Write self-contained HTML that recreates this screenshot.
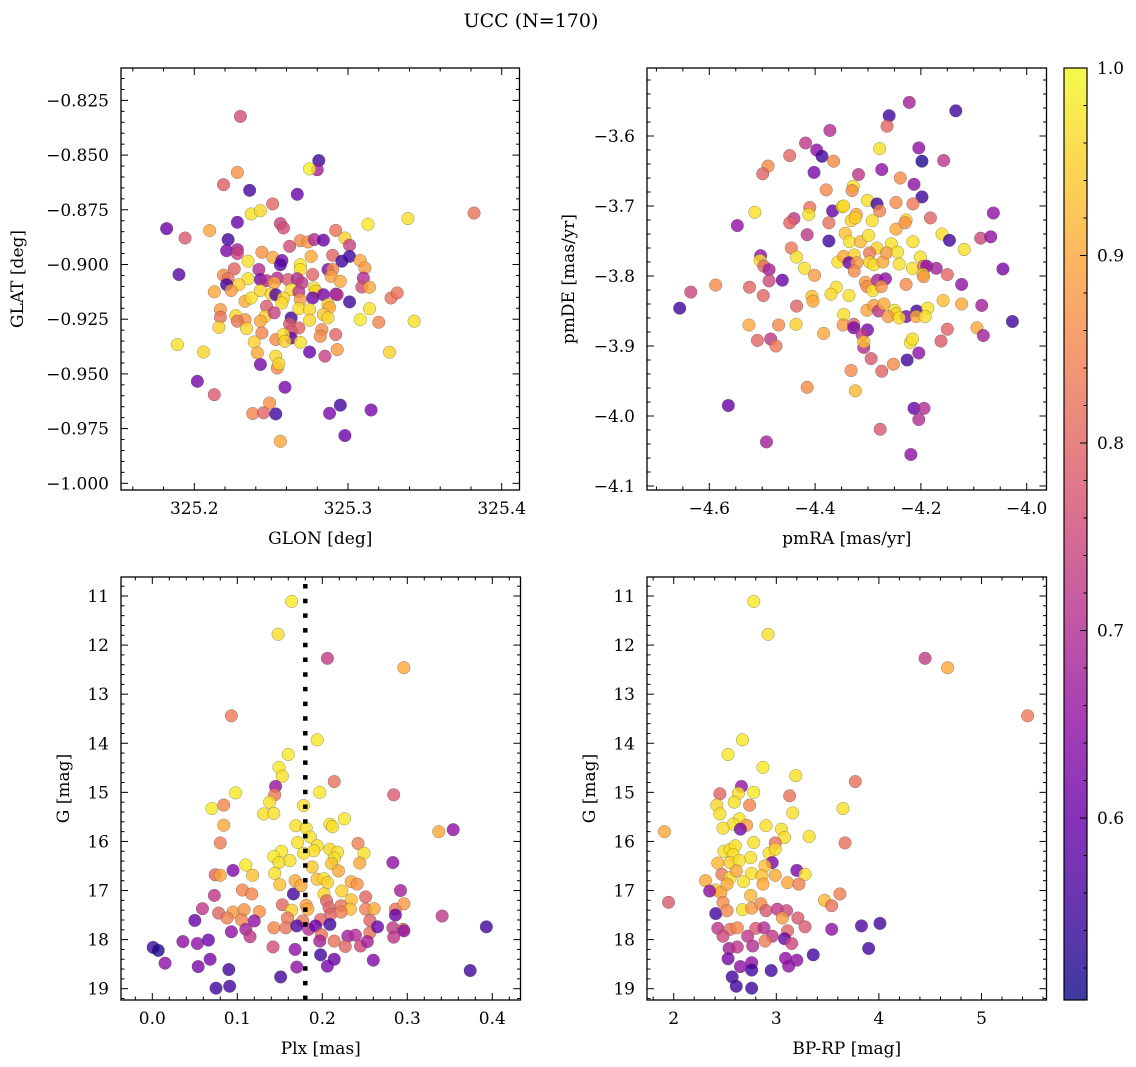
<!DOCTYPE html>
<html><head><meta charset="utf-8"><style>
html,body{margin:0;padding:0;background:#fff}
svg{display:block;font-family:"DejaVu Serif","Liberation Serif",serif}
</style></head><body>
<svg id="fig" width="1136" height="1067" viewBox="0 0 1136 1067" xmlns="http://www.w3.org/2000/svg">
<text x="531" y="27" font-size="19" text-anchor="middle">UCC (N=170)</text>
</svg>
<script>
// ---- Panel 1 data: GLON / GLAT ----
const glon=[325.230,325.281,325.280,325.275,325.228,325.219,325.236,325.267,325.251,325.237,325.243,325.228,325.382,325.339,325.313,325.182,325.194,325.210,325.256,325.258,325.222,325.292,325.298,325.269,325.274,325.278,325.284,325.221,325.228,325.228,325.262,325.301,325.244,325.251,325.257,325.256,325.276,325.269,325.269,325.290,325.296,325.301,325.308,325.311,325.235,325.190,325.226,325.242,325.287,325.290,325.289,325.219,325.222,325.235,325.243,325.247,325.254,325.252,325.261,325.267,325.270,325.277,325.295,325.310,325.309,325.314,325.229,325.221,325.213,325.224,325.243,325.250,325.253,325.263,325.258,325.268,325.278,325.279,325.284,325.292,325.293,325.328,325.332,325.301,325.233,325.237,325.247,325.257,325.269,325.277,325.287,325.288,325.314,325.217,325.217,325.227,325.233,325.228,325.246,325.252,325.263,325.268,325.275,325.275,325.284,325.287,325.308,325.343,325.320,325.216,325.234,325.243,325.262,325.268,325.263,325.283,325.282,325.292,325.244,325.253,325.263,325.258,325.259,325.269,325.239,325.189,325.206,325.241,325.275,325.285,325.293,325.327,325.253,325.243,325.254,325.255,325.202,325.259,325.213,325.249,325.238,325.245,325.253,325.295,325.288,325.315,325.298,325.256];
const glat=[-0.8323,-0.8525,-0.8567,-0.8563,-0.8579,-0.8635,-0.8661,-0.8679,-0.8723,-0.8769,-0.8754,-0.8807,-0.8765,-0.8790,-0.8816,-0.8836,-0.8879,-0.8845,-0.8813,-0.8833,-0.8886,-0.8844,-0.8879,-0.8891,-0.8897,-0.8886,-0.8889,-0.8937,-0.8932,-0.8950,-0.8917,-0.8912,-0.8944,-0.8967,-0.8982,-0.9001,-0.8963,-0.9001,-0.9023,-0.8958,-0.8985,-0.8963,-0.8982,-0.9016,-0.8985,-0.9046,-0.9020,-0.9023,-0.9023,-0.9023,-0.9054,-0.9049,-0.9065,-0.9065,-0.9069,-0.9074,-0.9062,-0.9084,-0.9069,-0.9065,-0.9084,-0.9046,-0.9077,-0.9062,-0.9103,-0.9104,-0.9092,-0.9092,-0.9125,-0.9119,-0.9119,-0.9135,-0.9138,-0.9115,-0.9153,-0.9125,-0.9107,-0.9122,-0.9138,-0.9135,-0.9138,-0.9153,-0.9130,-0.9171,-0.9168,-0.9153,-0.9191,-0.9176,-0.9161,-0.9153,-0.9183,-0.9196,-0.9202,-0.9206,-0.9241,-0.9234,-0.9252,-0.9259,-0.9237,-0.9221,-0.9244,-0.9202,-0.9206,-0.9255,-0.9229,-0.9244,-0.9252,-0.9259,-0.9264,-0.9287,-0.9293,-0.9259,-0.9272,-0.9290,-0.9305,-0.9298,-0.9328,-0.9320,-0.9313,-0.9343,-0.9336,-0.9320,-0.9351,-0.9356,-0.9354,-0.9366,-0.9400,-0.9404,-0.9400,-0.9419,-0.9389,-0.9401,-0.9419,-0.9457,-0.9473,-0.9454,-0.9534,-0.9561,-0.9595,-0.9633,-0.9681,-0.9678,-0.9683,-0.9643,-0.9680,-0.9665,-0.9782,-0.9808];
const probPos=[.76,.55,.68,.99,.87,.79,.55,.60,.80,.97,.96,.60,.82,.97,.98,.60,.78,.90,.74,.76,.55,.82,.95,.86,.88,.70,.60,.62,.68,.74,.76,.74,.87,.90,.62,.57,.90,.98,.97,.80,.55,.55,.90,.88,.97,.58,.80,.70,.62,.86,.89,.86,.82,.97,.62,.70,.70,.90,.78,.70,.72,.80,.90,.70,.76,.90,.95,.55,.90,.88,.96,.95,.57,.97,.96,.72,.97,.95,.62,.68,.70,.82,.82,.55,.90,.97,.78,.96,.88,.60,.96,.90,.97,.88,.82,.96,.87,.82,.95,.74,.55,.97,.96,.96,.94,.96,.98,.97,.85,.95,.96,.90,.78,.80,.78,.86,.86,.80,.85,.86,.60,.97,.95,.97,.95,.97,.96,.90,.60,.74,.88,.95,.96,.62,.86,.96,.62,.62,.78,.87,.85,.80,.55,.55,.62,.62,.60,.90];

// ---- Panel 2 data: pmRA / pmDE ----
const pmra=[-4.222,-4.134,-4.260,-4.264,-4.372,-4.418,-4.397,-4.387,-4.365,-4.278,-4.204,-4.198,-4.157,-4.448,-4.489,-4.499,-4.402,-4.318,-4.274,-4.239,-4.213,-4.198,-4.379,-4.328,-4.330,-4.514,-4.547,-4.410,-4.367,-4.349,-4.346,-4.301,-4.283,-4.278,-4.247,-4.215,-4.440,-4.448,-4.412,-4.374,-4.332,-4.322,-4.324,-4.292,-4.228,-4.247,-4.230,-4.182,-4.415,-4.374,-4.343,-4.335,-4.314,-4.299,-4.283,-4.256,-4.215,-4.160,-4.146,-4.118,-4.087,-4.068,-4.063,-4.445,-4.435,-4.503,-4.504,-4.497,-4.487,-4.420,-4.401,-4.357,-4.346,-4.326,-4.336,-4.321,-4.297,-4.297,-4.289,-4.272,-4.265,-4.244,-4.241,-4.201,-4.216,-4.195,-4.189,-4.171,-4.150,-4.045,-4.326,-4.196,-4.195,-4.487,-4.462,-4.635,-4.588,-4.524,-4.498,-4.360,-4.370,-4.336,-4.305,-4.302,-4.291,-4.282,-4.267,-4.275,-4.228,-4.123,-4.656,-4.435,-4.406,-4.404,-4.158,-4.123,-4.085,-4.302,-4.289,-4.280,-4.270,-4.250,-4.247,-4.262,-4.228,-4.208,-4.209,-4.187,-4.192,-4.241,-4.346,-4.027,-4.525,-4.469,-4.436,-4.347,-4.327,-4.327,-4.301,-4.384,-4.509,-4.484,-4.474,-4.311,-4.308,-4.308,-4.220,-4.216,-4.162,-4.150,-4.094,-4.082,-4.294,-4.332,-4.274,-4.252,-4.226,-4.204,-4.415,-4.324,-4.564,-4.213,-4.194,-4.204,-4.277,-4.492,-4.219];
const pmde=[-3.552,-3.564,-3.571,-3.586,-3.592,-3.610,-3.620,-3.629,-3.636,-3.618,-3.617,-3.636,-3.635,-3.628,-3.643,-3.654,-3.652,-3.655,-3.648,-3.660,-3.669,-3.687,-3.677,-3.672,-3.678,-3.709,-3.728,-3.702,-3.707,-3.701,-3.700,-3.692,-3.697,-3.707,-3.695,-3.697,-3.718,-3.724,-3.712,-3.724,-3.721,-3.712,-3.717,-3.721,-3.720,-3.733,-3.724,-3.717,-3.741,-3.750,-3.739,-3.751,-3.751,-3.742,-3.760,-3.754,-3.751,-3.740,-3.749,-3.762,-3.746,-3.744,-3.710,-3.760,-3.773,-3.771,-3.778,-3.786,-3.791,-3.789,-3.799,-3.780,-3.772,-3.770,-3.781,-3.781,-3.767,-3.780,-3.784,-3.780,-3.767,-3.766,-3.783,-3.773,-3.789,-3.786,-3.786,-3.789,-3.798,-3.790,-3.793,-3.798,-3.801,-3.807,-3.806,-3.823,-3.813,-3.816,-3.828,-3.816,-3.826,-3.828,-3.809,-3.815,-3.821,-3.806,-3.804,-3.815,-3.812,-3.812,-3.846,-3.843,-3.829,-3.836,-3.835,-3.840,-3.842,-3.849,-3.842,-3.850,-3.840,-3.849,-3.854,-3.858,-3.858,-3.850,-3.858,-3.846,-3.858,-3.860,-3.855,-3.865,-3.870,-3.870,-3.869,-3.870,-3.869,-3.874,-3.877,-3.882,-3.892,-3.890,-3.900,-3.884,-3.902,-3.894,-3.895,-3.890,-3.893,-3.876,-3.874,-3.885,-3.918,-3.935,-3.936,-3.926,-3.920,-3.910,-3.959,-3.964,-3.985,-3.989,-3.989,-4.005,-4.019,-4.037,-4.055];
const probPm=[.68,.55,.55,.80,.70,.72,.65,.55,.86,.97,.65,.52,.72,.80,.86,.80,.62,.72,.65,.86,.65,.55,.86,.97,.86,.97,.65,.82,.60,.97,.96,.97,.55,.85,.86,.83,.72,.80,.97,.82,.95,.90,.95,.97,.95,.90,.87,.80,.72,.55,.93,.97,.92,.97,.95,.97,.97,.97,.55,.97,.75,.65,.65,.83,.97,.65,.97,.80,.68,.97,.88,.97,.90,.95,.60,.88,.83,.95,.97,.90,.88,.97,.97,.97,.97,.82,.65,.68,.80,.62,.86,.97,.87,.75,.60,.75,.86,.80,.80,.97,.96,.97,.88,.86,.97,.68,.65,.87,.86,.65,.55,.80,.93,.90,.93,.90,.68,.90,.88,.72,.90,.97,.96,.88,.62,.55,.90,.97,.97,.97,.97,.55,.90,.86,.95,.88,.80,.62,.62,.90,.80,.72,.83,.72,.70,.93,.97,.97,.78,.80,.90,.68,.78,.86,.80,.86,.55,.65,.86,.92,.60,.60,.70,.70,.78,.68,.65];

// ---- Panel 3 data: Plx / G ----
const plx=[.164,.148,.206,.296,.093,.194,.160,.149,.153,.214,.145,.144,.098,.197,.284,.070,.084,.138,.131,.143,.178,.226,.084,.169,.181,.209,.212,.337,.354,.080,.186,.171,.194,.242,.190,.178,.152,.143,.149,.162,.209,.218,.214,.211,.219,.249,.244,.283,.110,.118,.074,.080,.095,.144,.150,.188,.194,.202,.206,.168,.234,.241,.223,.202,.106,.117,.073,.166,.175,.292,.251,.234,.205,.059,.078,.095,.108,.126,.153,.164,.181,.183,.208,.222,.233,.251,.261,.286,.296,.341,.050,.088,.105,.120,.159,.177,.198,.210,.222,.209,.256,.286,.143,.157,.170,.184,.192,.199,.230,.239,.256,.265,.283,.295,.296,.393,.093,.110,.115,.036,.053,.066,.214,.227,.245,.253,.284,.001,.007,.142,.168,.197,.015,.054,.068,.198,.214,.206,.260,.090,.170,.374,.151,.075,.091];
const gPlx=[11.11,11.78,12.27,12.46,13.44,13.93,14.23,14.49,14.67,14.78,14.88,15.05,15.01,15.00,15.05,15.33,15.26,15.20,15.44,15.43,15.27,15.54,15.67,15.68,15.73,15.65,15.70,15.80,15.76,16.03,15.91,16.02,16.09,16.04,16.19,16.24,16.20,16.31,16.43,16.39,16.16,16.22,16.34,16.45,16.60,16.24,16.44,16.43,16.48,16.69,16.68,16.69,16.59,16.65,16.88,16.52,16.77,16.76,16.84,16.80,16.82,16.87,17.01,17.07,16.99,17.07,17.10,17.07,16.90,17.00,17.13,17.19,17.21,17.37,17.46,17.44,17.39,17.43,17.29,17.40,17.30,17.38,17.35,17.31,17.38,17.38,17.37,17.38,17.27,17.52,17.61,17.56,17.60,17.62,17.56,17.62,17.59,17.48,17.44,17.69,17.61,17.50,17.76,17.76,17.72,17.79,17.72,17.90,17.93,17.91,17.86,17.74,17.76,17.79,17.82,17.74,17.84,17.79,17.94,18.04,18.08,18.01,18.03,18.14,18.13,18.04,17.95,18.16,18.22,18.15,18.20,18.03,18.48,18.55,18.40,18.31,18.40,18.54,18.42,18.61,18.56,18.63,18.76,18.99,18.95];
const probPlx=[.98,.97,.73,.90,.83,.98,.98,.98,.97,.82,.66,.83,.98,.98,.78,.98,.85,.97,.97,.97,.97,.98,.90,.97,.97,.97,.97,.90,.65,.84,.97,.97,.97,.84,.97,.97,.98,.98,.97,.97,.96,.97,.97,.93,.90,.97,.90,.65,.98,.93,.80,.90,.63,.97,.93,.94,.93,.97,.95,.90,.90,.87,.95,.96,.85,.85,.72,.55,.90,.68,.80,.93,.80,.72,.80,.88,.87,.87,.80,.95,.88,.90,.80,.82,.93,.84,.90,.82,.88,.72,.60,.84,.85,.65,.83,.83,.80,.80,.84,.55,.80,.60,.85,.82,.57,.70,.60,.82,.68,.70,.82,.60,.72,.82,.65,.55,.65,.68,.72,.65,.65,.60,.82,.80,.75,.68,.72,.55,.52,.76,.65,.68,.65,.62,.62,.55,.60,.62,.63,.55,.65,.55,.55,.55,.55];
const plxRef=[0.18];

// ---- Panel 4 data: BP-RP / G ----
const bprp=[2.78,2.92,4.45,4.67,5.45,2.67,2.53,2.87,3.19,3.77,2.66,2.45,2.78,2.63,2.59,2.42,2.45,2.74,3.13,3.16,3.65,2.64,2.58,2.48,2.71,2.65,2.90,3.05,3.08,3.32,1.91,3.67,2.78,2.99,2.49,2.55,2.60,2.58,2.75,2.93,2.99,2.43,2.55,2.64,2.96,2.89,2.47,2.55,2.61,2.76,2.99,3.20,3.28,2.31,2.41,2.46,2.35,2.52,2.68,2.86,2.87,3.11,3.22,2.75,3.47,3.62,3.54,1.95,2.48,2.41,2.52,2.67,2.76,2.85,2.90,3.01,3.10,3.06,3.21,3.28,3.54,3.83,4.01,2.43,2.55,2.62,2.48,2.72,2.80,2.88,2.96,3.11,3.08,3.15,2.54,2.62,2.77,2.89,3.90,3.36,2.53,2.65,2.76,2.76,3.09,3.12,3.20,2.95,2.57,2.61,2.76];
const gCmd=[11.11,11.78,12.27,12.46,13.44,13.93,14.23,14.49,14.66,14.78,14.88,15.03,15.00,15.02,15.20,15.26,15.44,15.26,15.07,15.42,15.33,15.54,15.65,15.73,15.67,15.75,15.68,15.75,15.92,15.90,15.80,16.03,16.02,16.03,16.20,16.16,16.09,16.27,16.33,16.24,16.16,16.44,16.43,16.39,16.43,16.50,16.67,16.74,16.60,16.65,16.69,16.59,16.67,16.80,16.99,17.04,17.01,16.87,16.82,16.70,16.87,16.84,16.87,17.10,17.20,17.07,17.31,17.24,17.24,17.47,17.41,17.39,17.36,17.27,17.41,17.38,17.41,17.56,17.56,17.74,17.79,17.72,17.67,17.77,17.79,17.76,17.93,17.93,17.77,17.76,17.93,17.82,17.98,18.08,18.18,18.15,18.13,18.03,18.18,18.31,18.39,18.55,18.47,18.62,18.38,18.54,18.42,18.63,18.76,18.95,18.99];
const probCmd=[.98,.97,.73,.90,.83,.98,.98,.98,.97,.82,.66,.80,.98,.97,.97,.96,.97,.85,.82,.97,.97,.97,.97,.97,.88,.62,.97,.97,.97,.97,.90,.82,.97,.82,.97,.97,.97,.97,.97,.97,.96,.92,.95,.97,.63,.93,.83,.97,.90,.97,.90,.62,.97,.90,.95,.90,.65,.90,.97,.93,.90,.90,.84,.92,.92,.84,.82,.78,.86,.55,.86,.97,.88,.86,.78,.72,.75,.88,.78,.78,.65,.57,.55,.72,.82,.85,.75,.72,.78,.70,.72,.80,.60,.75,.68,.72,.70,.84,.55,.55,.62,.65,.65,.55,.65,.65,.65,.55,.55,.55,.55];

// ---- Axis tick values / labels ----
const p1XTicks=[325.2,325.3,325.4];
const p1XLabels=["325.2","325.3","325.4"];
const p1YTicks=[-0.825,-0.85,-0.875,-0.9,-0.925,-0.95,-0.975,-1.0];
const p1YLabels=["\u22120.825","\u22120.850","\u22120.875","\u22120.900","\u22120.925","\u22120.950","\u22120.975","\u22121.000"];
const p2XTicks=[-4.6,-4.4,-4.2,-4.0];
const p2XLabels=["\u22124.6","\u22124.4","\u22124.2","\u22124.0"];
const p2YTicks=[-3.6,-3.7,-3.8,-3.9,-4.0,-4.1];
const p2YLabels=["\u22123.6","\u22123.7","\u22123.8","\u22123.9","\u22124.0","\u22124.1"];
const p3XTicks=[0,0.1,0.2,0.3,0.4];
const p3XLabels=["0.0","0.1","0.2","0.3","0.4"];
const gTicks=[11,12,13,14,15,16,17,18,19];
const gLabels=["11","12","13","14","15","16","17","18","19"];
const p4XTicks=[2,3,4,5];
const p4XLabels=["2","3","4","5"];
const cbTicks=[1.0,0.9,0.8,0.7,0.6];
const cbLabels=["1.0","0.9","0.8","0.7","0.6"];
const vmin=0.503, vmax=1.0;

const NS="http://www.w3.org/2000/svg";
const svg=document.getElementById('fig');
function mk(tag,attrs,parent){const e=document.createElementNS(NS,tag);for(const k in attrs)e.setAttribute(k,attrs[k]);(parent||svg).appendChild(e);return e;}
function lin(d0,d1,r0,r1){const f=v=>r0+(v-d0)*(r1-r0)/(d1-d0);f.inv=p=>d0+(p-r0)*(d1-d0)/(r1-r0);return f;}
const stops=[[13,8,135],[65,4,157],[106,0,168],[143,13,164],[177,42,144],[204,71,120],[225,100,98],[242,132,75],[252,166,54],[252,206,37],[240,249,33]];
function plasma(t){t=Math.max(0,Math.min(1,t));const s=t*10,i=Math.min(9,Math.floor(s)),f=s-i;const a=stops[i],b=stops[i+1];return `rgb(${Math.round(a[0]+(b[0]-a[0])*f)},${Math.round(a[1]+(b[1]-a[1])*f)},${Math.round(a[2]+(b[2]-a[2])*f)})`;}
function cmap(p){return plasma((p-vmin)/(vmax-vmin));}

function panel(c){
  const g=mk('g',{});
  
  
  const [x0,y0,x1,y1]=c.box;
  const defs=mk('clipPath',{id:c.name+'-clip'},g);
  mk('rect',{x:x0,y:y0,width:x1-x0,height:y1-y0},defs);
  const pts=mk('g',{'clip-path':`url(#${c.name}-clip)`},g);
  
  
  for(let i=0;i<c.xs.length;i++){
    const cc=mk('circle',{cx:c.sx(c.xs[i]).toFixed(2),cy:c.sy(c.ys[i]).toFixed(2),r:6.3,fill:cmap(c.ps[i]),'fill-opacity':0.8,stroke:'#444','stroke-width':0.5,'stroke-opacity':0.55},pts);
    
    
  }
  if(c.extra)c.extra(pts);
  // ticks
  const tk=mk('g',{stroke:'#000','stroke-width':1},g);
  
  
  const near=(v,arr,st)=>arr.some(a=>Math.abs(a-v)<st*0.3);
  function minors(sc,a,b,step,maj){const lo=Math.min(sc.inv(a),sc.inv(b)),hi=Math.max(sc.inv(a),sc.inv(b));const out=[];for(let k=Math.ceil(lo/step-1e-6);k<=Math.floor(hi/step+1e-6);k++){const v=k*step;if(!near(v,maj,step))out.push(v);}return out;}
  c.xMaj.forEach(v=>{const x=c.sx(v);mk('line',{x1:x,x2:x,y1:y1,y2:y1-7},tk);mk('line',{x1:x,x2:x,y1:y0,y2:y0+7},tk);});
  minors(c.sx,x0,x1,c.xMinStep,c.xMaj).forEach(v=>{const x=c.sx(v);mk('line',{x1:x,x2:x,y1:y1,y2:y1-3.5},tk);mk('line',{x1:x,x2:x,y1:y0,y2:y0+3.5},tk);});
  c.yMaj.forEach(v=>{const y=c.sy(v);mk('line',{y1:y,y2:y,x1:x0,x2:x0+7},tk);mk('line',{y1:y,y2:y,x1:x1,x2:x1-7},tk);});
  minors(c.sy,y0,y1,c.yMinStep,c.yMaj).forEach(v=>{const y=c.sy(v);mk('line',{y1:y,y2:y,x1:x0,x2:x0+3.5},tk);mk('line',{y1:y,y2:y,x1:x1,x2:x1-3.5},tk);});
  mk('rect',{x:x0,y:y0,width:x1-x0,height:y1-y0,fill:'none',stroke:'#000','stroke-width':1.3},g);
  // labels
  c.xMaj.forEach((v,i)=>{const t=mk('text',{x:c.sx(v),y:y1+24,'font-size':17,'text-anchor':'middle'},g);t.textContent=c.xLab[i];});
  c.yMaj.forEach((v,i)=>{const t=mk('text',{x:x0-12,y:c.sy(v)+6,'font-size':17,'text-anchor':'end'},g);t.textContent=c.yLab[i];});
  const xt=mk('text',{x:(x0+x1)/2,y:y1+54,'font-size':17,'text-anchor':'middle'},g);xt.textContent=c.xTitle;
  
  const yt=mk('text',{x:0,y:0,'font-size':17,'text-anchor':'middle',transform:`translate(${c.yTitleX},${(y0+y1)/2}) rotate(-90)`},g);yt.textContent=c.yTitle;
  
}

const sG=lin(11,19,596,988.7);
panel({name:'glon-glat-panel',box:[121,68,519.5,490],sx:lin(325.2,325.4,194.3,501.7),sy:lin(-0.825,-1.0,100.4,483.3),xs:glon,ys:glat,ps:probPos,
  xMaj:p1XTicks,xLab:p1XLabels,xMinStep:0.02,yMaj:p1YTicks,yLab:p1YLabels,yMinStep:0.005,xTitle:'GLON [deg]',yTitle:'GLAT [deg]',yTitleX:23});
panel({name:'pm-panel',box:[647,68,1046.5,490],sx:lin(-4.6,-4.0,709.3,1026.7),sy:lin(-3.6,-4.1,136,486),xs:pmra,ys:pmde,ps:probPm,
  xMaj:p2XTicks,xLab:p2XLabels,xMinStep:0.05,yMaj:p2YTicks,yLab:p2YLabels,yMinStep:0.02,xTitle:'pmRA [mas/yr]',yTitle:'pmDE [mas/yr]',yTitleX:574});
const sPlx=lin(0,0.4,152.3,492.3);
panel({name:'plx-g-panel',box:[121,577,520.5,1000],sx:sPlx,sy:sG,xs:plx,ys:gPlx,ps:probPlx,
  xMaj:p3XTicks,xLab:p3XLabels,xMinStep:0.02,yMaj:gTicks,yLab:gLabels,yMinStep:0.2,xTitle:'Plx [mas]',yTitle:'G [mag]',yTitleX:69,
  extra:(g)=>{plxRef.forEach(v=>{const l=mk('line',{x1:sPlx(v),x2:sPlx(v),y1:584,y2:1000,stroke:'#000','stroke-width':4.5,'stroke-dasharray':'4.5 10.2'},g);});}});
panel({name:'cmd-panel',box:[647,577,1046.5,1000],sx:lin(2,5,673.7,981.5),sy:sG,xs:bprp,ys:gCmd,ps:probCmd,
  xMaj:p4XTicks,xLab:p4XLabels,xMinStep:0.2,yMaj:gTicks,yLab:gLabels,yMinStep:0.2,xTitle:'BP-RP [mag]',yTitle:'G [mag]',yTitleX:595});

// colorbar
const cb=mk('g',{});


const gd=mk('linearGradient',{id:'cbgrad',x1:0,y1:1,x2:0,y2:0},cb);
for(let i=0;i<=20;i++){mk('stop',{offset:(i/20),'stop-color':plasma(i/20),'stop-opacity':0.8},gd);}
const cbY=lin(1.0,0.6,68,818);
mk('rect',{x:1064,y:68,width:23,height:932,fill:'url(#cbgrad)'},cb);
for(let k=26;k<=50;k++){const v=k*0.02;const y=cbY(v);if(y<68||y>1000)continue;const maj=Math.abs(v*10-Math.round(v*10))<1e-6;mk('line',{x1:1087,x2:1087-(maj?7:3.5),y1:y,y2:y,stroke:'#000','stroke-width':1},cb);}
mk('rect',{x:1064,y:68,width:23,height:932,fill:'none',stroke:'#000','stroke-width':1.2},cb);
cbTicks.forEach((v,i)=>{const t=mk('text',{x:1097,y:cbY(v)+6,'font-size':17},cb);t.textContent=cbLabels[i];});
</script>
</body></html>
